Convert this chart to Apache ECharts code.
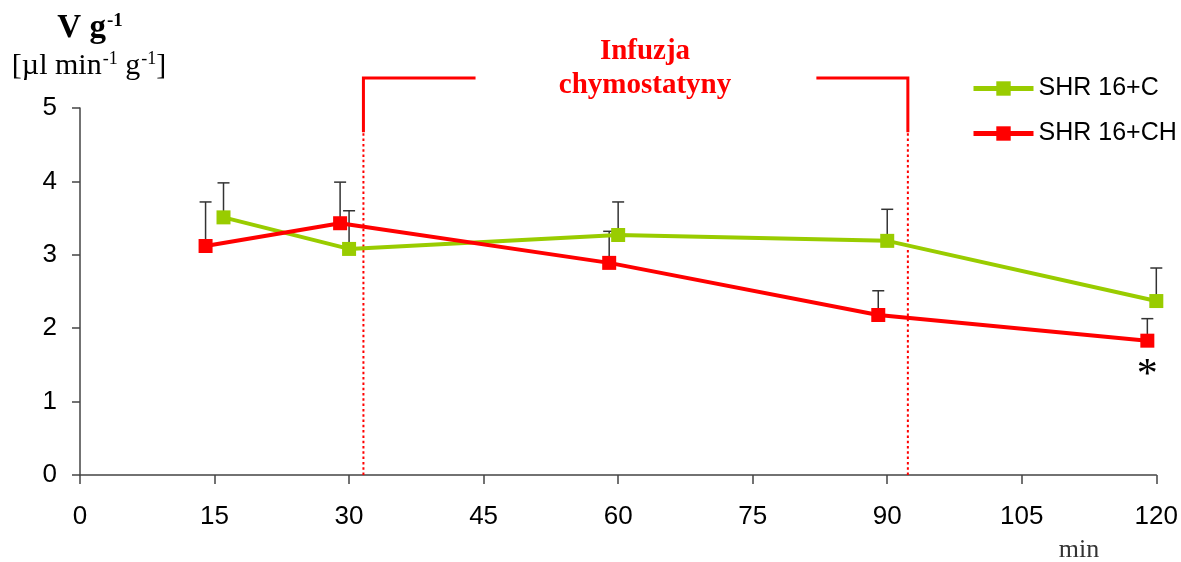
<!DOCTYPE html>
<html>
<head>
<meta charset="utf-8">
<script src="https://cdn.jsdelivr.net/npm/echarts@6/dist/echarts.min.js"></script>
<style>
  html, body { margin: 0; padding: 0; background: #fff; }
  #chart { width: 1181px; height: 562px; }
</style>
</head>
<body>
<div id="chart"></div>
<script>
// Tick values
const xTicks = [0, 15, 30, 45, 60, 75, 90, 105, 120];
const yTicks = [0, 1, 2, 3, 4, 5];

// Control group (SHR 16+C): time [min], mean, upper error
const timeC = [16, 30, 60, 90, 120];
const meanC = [3.51, 3.08, 3.27, 3.19, 2.37];
const errC  = [0.47, 0.52, 0.45, 0.43, 0.45];

// Chymostatin group (SHR 16+CH)
const timeCH = [14, 29, 59, 89, 119];
const meanCH = [3.12, 3.43, 2.89, 2.18, 1.83];
const errCH  = [0.60, 0.56, 0.43, 0.33, 0.30];

// Infusion window [min]
const infusion = [31.6, 92.3];

const seriesNames = ['SHR 16+C', 'SHR 16+CH'];
const colors = ['#99cc00', '#ff0000'];
const sansFont = '"Liberation Sans", Arial, sans-serif';
const serifFont = '"Liberation Serif", "Times New Roman", serif';

const chart = echarts.init(document.getElementById('chart'), null, { renderer: 'canvas' });

function points(t, m) { return t.map((x, i) => [x, m[i]]); }
function errPoints(t, m, e) { return t.map((x, i) => [x, m[i], e[i]]); }

// Upward-only error whiskers with a cap
function errorRender(params, api) {
  const x = api.value(0), m = api.value(1), e = api.value(2);
  const p0 = api.coord([x, m]);
  const p1 = api.coord([x, m + e]);
  const st = { stroke: '#333', lineWidth: 1.5 };
  return {
    type: 'group',
    children: [
      { type: 'line', shape: { x1: p0[0], y1: p0[1], x2: p1[0], y2: p1[1] }, style: st },
      { type: 'line', shape: { x1: p1[0] - 6, y1: p1[1], x2: p1[0] + 6, y2: p1[1] }, style: st }
    ]
  };
}

// Infusion bracket: dotted verticals from the axis up, solid top with a gap for the caption
function bracketRender(params, api) {
  const s = api.value(0), e = api.value(1);
  const red = '#ff0000';
  const base = 0, solidFrom = 4.67, top = 5.41;
  const gapL = 44.1, gapR = 82.1;
  const c = (x, y) => api.coord([x, y]);
  const dotted = { stroke: red, lineWidth: 2, lineDash: [2.5, 2.8] };
  const solid = { stroke: red, lineWidth: 3 };
  const a0 = c(s, base), a1 = c(s, solidFrom), a2 = c(s, top), a3 = c(gapL, top);
  const b0 = c(e, base), b1 = c(e, solidFrom), b2 = c(e, top), b3 = c(gapR, top);
  return {
    type: 'group',
    children: [
      { type: 'line', shape: { x1: a0[0], y1: a0[1], x2: a1[0], y2: a1[1] }, style: dotted },
      { type: 'line', shape: { x1: b0[0], y1: b0[1], x2: b1[0], y2: b1[1] }, style: dotted },
      { type: 'polyline', shape: { points: [a1, a2, a3] }, style: Object.assign({ fill: null }, solid) },
      { type: 'polyline', shape: { points: [b1, b2, b3] }, style: Object.assign({ fill: null }, solid) }
    ]
  };
}

const redData = points(timeCH, meanCH).map((p, i, arr) => {
  if (i === arr.length - 1) {
    return {
      value: p,
      label: {
        show: true, position: 'bottom', distance: 7, formatter: '*',
        fontFamily: serifFont, fontSize: 42, color: '#000'
      }
    };
  }
  return p;
});

const option = {
  animation: false,
  backgroundColor: '#fff',
  grid: { left: 80, right: 24, top: 108, bottom: 87, containLabel: false },
  legend: {
    orient: 'vertical', left: 966, top: 71,
    itemWidth: 60, itemHeight: 18, itemGap: 20,
    lineStyle: { width: 5 },
    textStyle: { fontFamily: sansFont, fontSize: 25, color: '#000' },
    data: seriesNames
  },
  xAxis: {
    type: 'value', min: xTicks[0], max: xTicks[xTicks.length - 1], interval: 15,
    axisLine: { show: true, onZero: false, lineStyle: { color: '#444', width: 1.5 } },
    axisTick: { show: true, inside: false, length: 9, lineStyle: { color: '#444', width: 1.5 } },
    axisLabel: { margin: 29, fontFamily: sansFont, fontSize: 26, color: '#000' },
    splitLine: { show: false }
  },
  yAxis: {
    type: 'value', min: yTicks[0], max: yTicks[yTicks.length - 1], interval: 1,
    axisLine: { show: true, lineStyle: { color: '#444', width: 1.5 } },
    axisTick: { show: true, inside: false, length: 8, lineStyle: { color: '#444', width: 1.5 } },
    axisLabel: { margin: 23, fontFamily: sansFont, fontSize: 26, color: '#000' },
    splitLine: { show: false }
  },
  graphic: [
    {
      type: 'text', x: 90, y: 28,
      style: {
        text: '{b|V g}{bs|-1}', align: 'center', verticalAlign: 'middle',
        rich: {
          b: { fontFamily: serifFont, fontWeight: 'bold', fontSize: 33, fill: '#000' },
          bs: { fontFamily: serifFont, fontWeight: 'bold', fontSize: 19, fill: '#000', verticalAlign: 'top', padding: [0, 0, 14, 1] }
        }
      }
    },
    {
      type: 'text', x: 89, y: 66,
      style: {
        text: '{r|[µl min}{s|-1}{r| g}{s|-1}{r|]}', align: 'center', verticalAlign: 'middle',
        rich: {
          r: { fontFamily: serifFont, fontSize: 30, fill: '#000' },
          s: { fontFamily: serifFont, fontSize: 18, fill: '#000', verticalAlign: 'top', padding: [0, 0, 13, 1] }
        }
      }
    },
    {
      type: 'text', x: 645, y: 69,
      style: {
        text: 'Infuzja\nchymostatyny', align: 'center', verticalAlign: 'middle',
        fontFamily: serifFont, fontWeight: 'bold', fontSize: 29, lineHeight: 34, fill: '#ff0000'
      }
    },
    {
      type: 'text', x: 1079, y: 550,
      style: {
        text: 'min', align: 'center', verticalAlign: 'middle',
        fontFamily: serifFont, fontSize: 26, fill: '#333'
      }
    }
  ],
  series: [
    {
      type: 'custom', name: 'infusion', renderItem: bracketRender, clip: false, z: 1,
      silent: true, data: [infusion], encode: { x: [0, 1], y: -1 }
    },
    {
      type: 'custom', name: 'errC', renderItem: errorRender, z: 2, silent: true,
      data: errPoints(timeC, meanC, errC), encode: { x: 0, y: [1, 2] }
    },
    {
      type: 'custom', name: 'errCH', renderItem: errorRender, z: 2, silent: true,
      data: errPoints(timeCH, meanCH, errCH), encode: { x: 0, y: [1, 2] }
    },
    {
      name: seriesNames[0], type: 'line', z: 3,
      data: points(timeC, meanC),
      symbol: 'rect', symbolSize: 14, showAllSymbol: true,
      lineStyle: { color: colors[0], width: 4 },
      itemStyle: { color: colors[0] }
    },
    {
      name: seriesNames[1], type: 'line', z: 4,
      data: redData,
      symbol: 'rect', symbolSize: 14, showAllSymbol: true,
      lineStyle: { color: colors[1], width: 4 },
      itemStyle: { color: colors[1] }
    }
  ]
};

chart.setOption(option);
</script>
</body>
</html>
